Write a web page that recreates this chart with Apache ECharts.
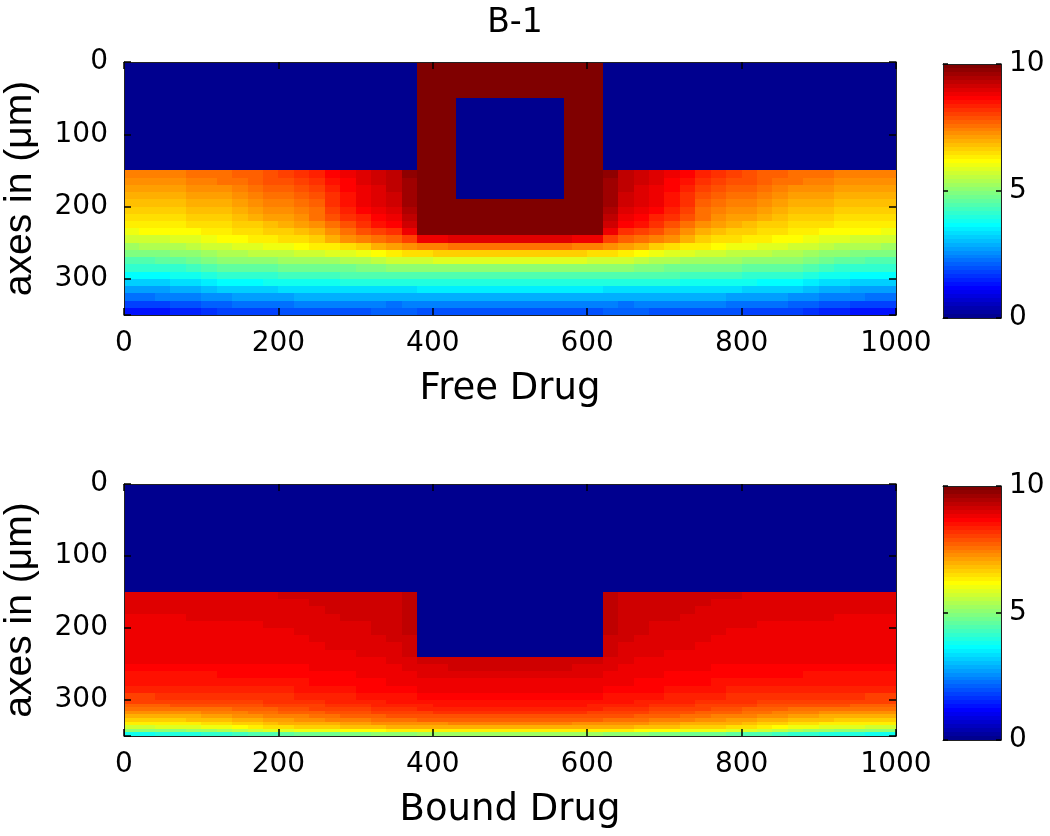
<!DOCTYPE html>
<html>
<head>
<meta charset="utf-8">
<script src="https://cdn.jsdelivr.net/npm/echarts@6/dist/echarts.min.js"></script>
<style>
html,body{margin:0;padding:0;background:#fff;}
#chart{width:1050px;height:836px;}
</style>
</head>
<body>
<div id="chart"></div>
<script>
// ---------------- data ----------------
const titleText = 'B-1';
const xLabelTop = 'Free Drug';
const xLabelBottom = 'Bound Drug';
const yLabel = 'axes in (μm)';
const xTicks = [0, 200, 400, 600, 800, 1000];
const yTicks = [0, 100, 200, 300];
const cbTicks = [0, 5, 10];
const xRange = [0, 1000];
const yRange = [0, 350];
const cbRange = [0, 10];
const cbLevels = 64;

// half-domain column edges (x from 0 to 500); the field is mirror symmetric about x = 500
const halfXEdges = [0,20,40,60,80,100,120,140,160,180,200,220,240,260,280,300,320,340,360,380,400,420,440,460,480,500];
const topYEdges = [150,160,170,180,190,200,210,220,230,240,250,260,270,280,290,300,310,320,330,340,350];
const bottomYEdges = [150,160,170,180,190,200,210,220,230,240,250,260,270,280,290,300,305,310,315,320,325,330,335,340,345,350];

// Free drug (top), values per row (y) over half columns
const freeRows = [
[7.42,7.43,7.44,7.47,7.50,7.54,7.60,7.70,7.81,7.94,8.09,8.25,8.42,8.62,8.82,9.00,9.17,9.33,9.70,10,10,10,10,10,10],
[7.27,7.28,7.30,7.33,7.37,7.43,7.50,7.59,7.70,7.82,7.96,8.11,8.27,8.51,8.74,8.94,9.11,9.28,9.68,10,10,10,10,10,10],
[7.11,7.12,7.14,7.17,7.21,7.27,7.34,7.43,7.54,7.67,7.81,7.96,8.12,8.39,8.66,8.89,9.06,9.23,9.66,10,10,10,10,10,10],
[6.96,6.97,6.98,7.02,7.06,7.11,7.18,7.27,7.38,7.51,7.65,7.80,7.96,8.27,8.58,8.83,9.00,9.18,9.64,10,10,10,10,10,10],
[6.80,6.81,6.82,6.86,6.90,6.95,7.02,7.11,7.23,7.35,7.49,7.64,7.81,8.16,8.51,8.77,8.95,9.13,9.62,10,10,10,10,10,10],
[6.65,6.66,6.67,6.70,6.74,6.80,6.86,6.95,7.07,7.19,7.33,7.48,7.65,8.00,8.35,8.63,8.82,9.02,9.52,10,10,10,10,10,10],
[6.50,6.51,6.52,6.55,6.59,6.64,6.70,6.80,6.91,7.04,7.18,7.33,7.50,7.82,8.13,8.40,8.63,8.86,9.36,10,10,10,10,10,10],
[6.34,6.35,6.36,6.39,6.43,6.48,6.54,6.62,6.71,6.82,6.94,7.06,7.20,7.54,7.88,8.18,8.44,8.70,9.20,10,10,10,10,10,10],
[6.09,6.10,6.12,6.16,6.22,6.29,6.38,6.44,6.51,6.59,6.69,6.78,6.89,7.23,7.57,7.84,8.03,8.22,8.90,10,10,10,10,10,10],
[5.70,5.71,5.75,5.82,5.91,6.03,6.17,6.22,6.28,6.35,6.42,6.50,6.59,6.89,7.19,7.42,7.58,7.74,8.05,8.80,8.90,9.00,9.00,9.00,9.00],
[5.31,5.32,5.36,5.43,5.52,5.64,5.78,5.84,5.91,5.99,6.08,6.18,6.28,6.39,6.50,6.67,6.90,7.13,7.25,7.35,7.45,7.50,7.50,7.50,7.50],
[4.92,4.93,4.97,5.04,5.13,5.25,5.39,5.44,5.49,5.55,5.62,5.70,5.78,5.84,5.89,6.02,6.21,6.40,6.48,6.55,6.60,6.64,6.64,6.64,6.64],
[4.50,4.51,4.56,4.63,4.72,4.85,5.00,5.03,5.07,5.11,5.16,5.21,5.26,5.31,5.36,5.44,5.57,5.69,5.74,5.78,5.80,5.83,5.83,5.83,5.83],
[4.08,4.09,4.13,4.20,4.29,4.41,4.55,4.58,4.61,4.65,4.69,4.74,4.78,4.81,4.84,4.89,4.94,5.00,5.00,5.00,5.00,5.00,5.00,5.00,5.00],
[3.66,3.67,3.71,3.77,3.86,3.97,4.11,4.14,4.17,4.20,4.24,4.28,4.33,4.36,4.39,4.42,4.45,4.48,4.47,4.48,4.50,4.50,4.50,4.50,4.50],
[3.21,3.22,3.26,3.32,3.41,3.52,3.65,3.68,3.71,3.75,3.79,3.83,3.88,3.90,3.93,3.94,3.95,3.96,3.95,3.97,3.98,4.00,4.00,4.00,4.00],
[2.77,2.78,2.81,2.87,2.94,3.03,3.15,3.18,3.22,3.26,3.31,3.36,3.41,3.41,3.42,3.42,3.42,3.42,3.42,3.44,3.46,3.48,3.48,3.48,3.48],
[2.31,2.32,2.35,2.40,2.46,2.55,2.65,2.68,2.72,2.76,2.81,2.87,2.93,2.91,2.89,2.88,2.88,2.88,2.88,2.90,2.92,2.93,2.93,2.93,2.93],
[1.83,1.84,1.87,1.92,1.99,2.07,2.18,2.21,2.25,2.29,2.34,2.40,2.46,2.43,2.39,2.37,2.35,2.33,2.35,2.38,2.40,2.42,2.42,2.42,2.42],
[1.35,1.36,1.39,1.45,1.52,1.61,1.73,1.76,1.80,1.85,1.90,1.96,2.02,2.01,2.00,2.01,2.04,2.07,2.05,2.03,2.00,2.00,2.00,2.00,2.00]
];

// Bound drug (bottom)
const boundRows = [
[8.95,8.95,8.96,8.96,8.97,8.99,9.00,9.02,9.04,9.06,9.09,9.10,9.12,9.14,9.15,9.17,9.18,9.20,9.30,0,0,0,0,0,0],
[8.95,8.95,8.95,8.96,8.96,8.97,8.98,8.99,9.01,9.02,9.04,9.06,9.09,9.11,9.13,9.15,9.18,9.20,9.30,0,0,0,0,0,0],
[8.93,8.93,8.93,8.93,8.94,8.94,8.95,8.95,8.96,8.97,8.98,9.01,9.04,9.07,9.10,9.12,9.15,9.18,9.28,0,0,0,0,0,0],
[8.90,8.90,8.90,8.90,8.91,8.91,8.92,8.92,8.93,8.94,8.95,8.98,9.01,9.04,9.07,9.09,9.12,9.15,9.26,0,0,0,0,0,0],
[8.88,8.88,8.88,8.88,8.89,8.89,8.89,8.90,8.90,8.91,8.92,8.95,8.98,9.01,9.04,9.06,9.09,9.12,9.24,0,0,0,0,0,0],
[8.86,8.86,8.86,8.86,8.87,8.87,8.87,8.88,8.88,8.89,8.90,8.93,8.96,8.99,9.02,9.04,9.07,9.10,9.22,0,0,0,0,0,0],
[8.84,8.84,8.84,8.84,8.84,8.85,8.85,8.85,8.85,8.86,8.87,8.90,8.93,8.96,8.99,9.01,9.04,9.07,9.20,0,0,0,0,0,0],
[8.82,8.82,8.82,8.82,8.82,8.82,8.82,8.83,8.83,8.83,8.84,8.87,8.90,8.92,8.95,8.98,9.00,9.03,9.17,0,0,0,0,0,0],
[8.79,8.79,8.79,8.79,8.79,8.79,8.79,8.80,8.80,8.80,8.81,8.83,8.86,8.88,8.90,8.92,8.95,8.97,9.10,0,0,0,0,0,0],
[8.75,8.75,8.75,8.75,8.75,8.75,8.75,8.75,8.75,8.75,8.76,8.78,8.81,8.83,8.85,8.87,8.90,8.92,9.00,9.10,9.12,9.15,9.15,9.15,9.15],
[8.68,8.68,8.68,8.68,8.68,8.69,8.69,8.69,8.69,8.70,8.71,8.73,8.76,8.78,8.80,8.82,8.85,8.87,8.93,9.02,9.06,9.10,9.10,9.10,9.10],
[8.58,8.58,8.58,8.58,8.59,8.59,8.60,8.60,8.61,8.62,8.63,8.66,8.69,8.71,8.74,8.77,8.79,8.82,8.86,8.92,8.96,9.00,9.00,9.00,9.00],
[8.46,8.46,8.46,8.47,8.47,8.48,8.48,8.49,8.50,8.51,8.54,8.57,8.60,8.64,8.67,8.70,8.74,8.77,8.80,8.84,8.87,8.90,8.90,8.90,8.90],
[8.30,8.30,8.31,8.31,8.32,8.33,8.34,8.36,8.37,8.39,8.42,8.46,8.49,8.53,8.57,8.60,8.64,8.68,8.72,8.75,8.77,8.78,8.78,8.78,8.78],
[8.12,8.12,8.13,8.13,8.15,8.16,8.18,8.20,8.22,8.24,8.28,8.32,8.36,8.39,8.43,8.47,8.51,8.55,8.59,8.62,8.64,8.65,8.65,8.65,8.65],
[7.97,7.97,7.98,7.99,8.00,8.02,8.04,8.07,8.10,8.13,8.17,8.21,8.25,8.29,8.33,8.37,8.41,8.45,8.49,8.52,8.54,8.55,8.55,8.55,8.55],
[7.80,7.80,7.81,7.82,7.84,7.86,7.88,7.91,7.94,7.98,8.02,8.07,8.12,8.16,8.21,8.26,8.30,8.35,8.39,8.42,8.44,8.45,8.45,8.45,8.45],
[7.50,7.50,7.52,7.54,7.56,7.60,7.64,7.69,7.75,7.81,7.88,7.92,7.97,8.02,8.07,8.12,8.17,8.22,8.26,8.29,8.31,8.32,8.32,8.32,8.32],
[7.25,7.25,7.27,7.29,7.32,7.36,7.41,7.47,7.53,7.60,7.68,7.73,7.78,7.83,7.89,7.94,7.99,8.05,8.09,8.12,8.14,8.15,8.15,8.15,8.15],
[6.95,6.95,6.97,7.00,7.03,7.08,7.13,7.20,7.27,7.35,7.43,7.49,7.55,7.61,7.67,7.73,7.79,7.85,7.89,7.92,7.94,7.95,7.95,7.95,7.95],
[6.65,6.65,6.68,6.70,6.74,6.79,6.85,6.93,7.00,7.09,7.18,7.24,7.30,7.36,7.42,7.48,7.54,7.60,7.64,7.67,7.69,7.70,7.70,7.70,7.70],
[6.30,6.30,6.33,6.36,6.40,6.45,6.52,6.60,6.69,6.78,6.88,6.93,6.98,7.03,7.09,7.14,7.19,7.25,7.29,7.32,7.34,7.35,7.35,7.35,7.35],
[5.75,5.75,5.79,5.83,5.89,5.96,6.05,6.16,6.28,6.41,6.53,6.58,6.63,6.68,6.74,6.79,6.84,6.90,6.94,6.97,6.99,7.00,7.00,7.00,7.00],
[5.00,5.00,5.05,5.09,5.16,5.25,5.36,5.50,5.63,5.79,5.93,5.98,6.03,6.08,6.14,6.19,6.24,6.30,6.34,6.37,6.39,6.40,6.40,6.40,6.40],
[3.90,3.90,3.94,3.97,4.03,4.10,4.18,4.29,4.39,4.52,4.64,4.70,4.77,4.83,4.90,4.97,5.03,5.10,5.14,5.17,5.19,5.20,5.20,5.20,5.20]
];

// geometric blocks of the domain: [x0, x1, y0, y1, value]
const freeBlocks = [[0,1000,0,150,0],[380,620,0,240,10],[430,570,50,190,0]];
const boundBlocks = [[0,1000,0,150,0],[380,620,150,240,0]];

// ---------------- helpers ----------------
function jet64(v) {
  let i = Math.floor((v - cbRange[0]) / (cbRange[1] - cbRange[0]) * cbLevels) + 1;
  i = Math.max(1, Math.min(cbLevels, i));
  const r = i <= 24 ? 0 : (i <= 40 ? (i - 24) / 16 : (i <= 56 ? 1 : 1 - (i - 56) / 16));
  const g = i <= 8 ? 0 : (i <= 24 ? (i - 8) / 16 : (i <= 40 ? 1 : 1 - (i - 40) / 16));
  const b = i <= 8 ? (i + 8) / 16 : (i <= 24 ? 1 : (i <= 40 ? 1 - (i - 24) / 16 : 0));
  return 'rgb(' + Math.round(r * 255) + ',' + Math.round(g * 255) + ',' + Math.round(b * 255) + ')';
}

function buildField(rows, yEdges, blocks) {
  const out = [];
  const n = halfXEdges.length - 1;
  const xMax = xRange[1];
  rows.forEach((row, r) => {
    for (let j = 0; j < n; j++) {
      const x0 = halfXEdges[j], x1 = halfXEdges[j + 1];
      out.push([x0, x1, yEdges[r], yEdges[r + 1], row[j]]);
      out.push([xMax - x1, xMax - x0, yEdges[r], yEdges[r + 1], row[j]]);
    }
  });
  blocks.forEach(b => out.push(b.slice()));
  return out;
}

function buildColorbar() {
  const out = [];
  const step = (cbRange[1] - cbRange[0]) / cbLevels;
  for (let k = 0; k < cbLevels; k++) {
    const lo = cbRange[0] + k * step, hi = lo + step;
    out.push([0, 1, lo, hi, lo + step / 2]);
  }
  return out;
}

function renderCell(params, api) {
  const p0 = api.coord([api.value(0), api.value(2)]);
  const p1 = api.coord([api.value(1), api.value(3)]);
  const xa = Math.round(Math.min(p0[0], p1[0])), xb = Math.round(Math.max(p0[0], p1[0]));
  const ya = Math.round(Math.min(p0[1], p1[1])), yb = Math.round(Math.max(p0[1], p1[1]));
  return {
    type: 'rect',
    shape: { x: xa, y: ya, width: xb - xa, height: yb - ya },
    style: { fill: jet64(api.value(4)) }
  };
}

// ---------------- chart ----------------
const FONT = 'DejaVu Sans';
const YNAME_FONT = 'Liberation Sans';
const LINE = '#222';
const TICK_FS = 28;
const XNAME_FS = 37;
const YNAME_FS = 39;
const chart = echarts.init(document.getElementById('chart'), null, { renderer: 'canvas' });

const gridBase = { outerBoundsMode: 'none', containLabel: false };
const grids = [
  Object.assign({ left: 124, top: 62, width: 772, height: 253 }, gridBase),
  Object.assign({ left: 124, top: 484, width: 772, height: 252 }, gridBase),
  Object.assign({ left: 943, top: 64, width: 58, height: 254 }, gridBase),
  Object.assign({ left: 943, top: 486, width: 58, height: 254 }, gridBase)
];

const lineOpt = { show: true, onZero: false, lineStyle: { color: LINE, width: 1 } };
const tickOpt = len => ({ show: true, inside: true, length: len, lineStyle: { color: '#000', width: 1.5 } });

function plotX(gridIndex, name) {
  return [
    {
      type: 'value', gridIndex, min: xRange[0], max: xRange[1], interval: xTicks[1] - xTicks[0],
      position: 'bottom', z: 10,
      axisLine: lineOpt, axisTick: tickOpt(7),
      axisLabel: { show: true, margin: 15, fontSize: TICK_FS, color: '#000', fontFamily: FONT,
        formatter: v => String(v) },
      splitLine: { show: false },
      name, nameLocation: 'middle', nameGap: 56,
      nameTextStyle: { fontSize: XNAME_FS, color: '#000', fontFamily: FONT }
    },
    {
      type: 'value', gridIndex, min: xRange[0], max: xRange[1], interval: xTicks[1] - xTicks[0],
      position: 'top', z: 10,
      axisLine: lineOpt, axisTick: tickOpt(7),
      axisLabel: { show: false }, splitLine: { show: false }
    }
  ];
}
function plotY(gridIndex) {
  return [
    {
      type: 'value', gridIndex, min: yRange[0], max: yRange[1], interval: yTicks[1] - yTicks[0],
      inverse: true, position: 'left', z: 10,
      axisLine: lineOpt, axisTick: tickOpt(7),
      axisLabel: { show: true, margin: 16, fontSize: TICK_FS, color: '#000', fontFamily: FONT,
        formatter: v => (yTicks.indexOf(v) >= 0 ? String(v) : '') },
      splitLine: { show: false },
      name: yLabel, nameLocation: 'middle', nameGap: 84,
      nameTextStyle: { fontSize: YNAME_FS, color: '#000', fontFamily: YNAME_FONT }
    },
    {
      type: 'value', gridIndex, min: yRange[0], max: yRange[1], interval: yTicks[1] - yTicks[0],
      inverse: true, position: 'right', z: 10,
      axisLine: lineOpt, axisTick: tickOpt(7),
      axisLabel: { show: false }, splitLine: { show: false }
    }
  ];
}
function cbX(gridIndex) {
  return ['bottom', 'top'].map(pos => ({
    type: 'value', gridIndex, min: 0, max: 1, position: pos, z: 10,
    axisLine: lineOpt, axisTick: { show: false }, axisLabel: { show: false }, splitLine: { show: false }
  }));
}
function cbY(gridIndex) {
  return [
    {
      type: 'value', gridIndex, min: cbRange[0], max: cbRange[1], interval: cbTicks[1] - cbTicks[0],
      position: 'right', z: 10,
      axisLine: lineOpt, axisTick: tickOpt(5),
      axisLabel: { show: true, margin: 8, fontSize: TICK_FS, color: '#000', fontFamily: FONT },
      splitLine: { show: false }
    },
    {
      type: 'value', gridIndex, min: cbRange[0], max: cbRange[1], interval: cbTicks[1] - cbTicks[0],
      position: 'left', z: 10,
      axisLine: lineOpt, axisTick: tickOpt(5),
      axisLabel: { show: false }, splitLine: { show: false }
    }
  ];
}

const xAxes = [].concat(plotX(0, xLabelTop), plotX(1, xLabelBottom), cbX(2), cbX(3));
const yAxes = [].concat(plotY(0), plotY(1), cbY(2), cbY(3));

function cellSeries(xi, yi, data) {
  return {
    type: 'custom', xAxisIndex: xi, yAxisIndex: yi, data,
    renderItem: renderCell, animation: false, progressive: 0, silent: true, z: 2,
    encode: { x: [0, 1], y: [2, 3] }
  };
}

chart.setOption({
  backgroundColor: '#fff',
  animation: false,
  title: {
    text: titleText, left: 510, top: 2, textAlign: 'center',
    textStyle: { fontSize: 33, fontWeight: 'normal', color: '#000', fontFamily: FONT }
  },
  grid: grids,
  xAxis: xAxes,
  yAxis: yAxes,
  series: [
    cellSeries(0, 0, buildField(freeRows, topYEdges, freeBlocks)),
    cellSeries(2, 2, buildField(boundRows, bottomYEdges, boundBlocks)),
    cellSeries(4, 4, buildColorbar()),
    cellSeries(6, 6, buildColorbar())
  ]
});
</script>
</body>
</html>
